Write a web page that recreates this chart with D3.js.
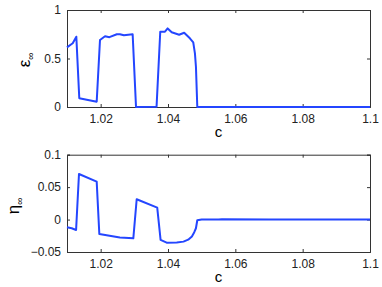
<!DOCTYPE html>
<html>
<head>
<meta charset="utf-8">
<script src="https://cdn.jsdelivr.net/npm/d3@7"></script>
<style>
  body { margin: 0; background: #fff; }
  svg { display: block; font-family: "Liberation Sans", Arial, sans-serif; }
  .tick text { font-size: 12px; fill: #222; }
</style>
</head>
<body>
<div class="chart"></div>
<script>
const W = 382, H = 287;

// epsilon_inf vs c
const epsC = [1.01, 1.0117, 1.01277, 1.01365, 1.01882, 1.0198, 1.0213, 1.0226, 1.0248, 1.0257, 1.0269, 1.0295, 1.0305, 1.0366, 1.0377, 1.0391, 1.0399, 1.0411, 1.0433, 1.0448, 1.0465, 1.0475, 1.048, 1.0483, 1.0487, 1.06, 1.08, 1.1];
const epsV = [0.615, 0.657, 0.725, 0.09, 0.055, 0.69, 0.73, 0.72, 0.75, 0.75, 0.74, 0.75, 0.0, 0.003, 0.776, 0.776, 0.81, 0.77, 0.745, 0.766, 0.708, 0.667, 0.553, 0.415, 0.0, 0.0, 0.0, 0.0];

// eta_inf vs c
const etaC = [1.01, 1.0114, 1.0127, 1.01356, 1.01882, 1.0196, 1.0257, 1.0297, 1.0307, 1.0368, 1.0378, 1.0396, 1.0426, 1.0446, 1.046, 1.0471, 1.0478, 1.0483, 1.0487, 1.05, 1.055, 1.056, 1.07, 1.1];
const etaV = [-0.0119, -0.0134, -0.016, 0.0703, 0.0585, -0.0222, -0.0278, -0.0289, 0.0313, 0.0184, -0.0314, -0.0356, -0.0352, -0.034, -0.031, -0.026, -0.0195, -0.0134, -0.001, 0.0, 0.0, 0.0003, 0.0, 0.0];

const xTicks = [1.02, 1.04, 1.06, 1.08, 1.1];
const epsTicks = [0, 0.5, 1];
const etaTicks = [-0.05, 0, 0.05, 0.1];

const svg = d3.select(".chart").append("svg")
  .attr("width", W).attr("height", H);

const left = 67, right = 370;

const panel = (top, bottom, cs, vs, yDomain, yTicks, yFmt, sym, labelX, labelY, xLabelY) => {
  const x = d3.scaleLinear().domain([1.01, 1.1]).range([left, right]);
  const y = d3.scaleLinear().domain(yDomain).range([bottom, top]);
  const g = svg.append("g");

  const xFmt = (d) => d === 1.1 ? "1.1" : d3.format(".2f")(d);

  g.append("g").attr("transform", `translate(0,${bottom})`)
    .call(d3.axisBottom(x).tickValues(xTicks).tickSize(-3).tickPadding(7).tickFormat(xFmt));
  g.append("g").attr("transform", `translate(0,${top})`)
    .call(d3.axisTop(x).tickValues(xTicks).tickSize(-3).tickFormat(""));
  g.append("g").attr("transform", `translate(${left},0)`)
    .call(d3.axisLeft(y).tickValues(yTicks).tickSize(-3).tickPadding(6).tickFormat(yFmt));
  g.append("g").attr("transform", `translate(${right},0)`)
    .call(d3.axisRight(y).tickValues(yTicks).tickSize(-3).tickFormat(""));

  g.selectAll(".domain").attr("stroke", "#333");
  g.selectAll(".tick line").attr("stroke", "#333");

  const line = d3.line().x((d, i) => x(cs[i])).y((d) => y(d));
  g.append("path").datum(vs)
    .attr("d", line)
    .attr("fill", "none")
    .attr("stroke", "#2446ff")
    .attr("stroke-width", 2)
    .attr("stroke-linejoin", "round");

  // labels
  g.append("text")
    .attr("x", (left + right) / 2).attr("y", xLabelY)
    .attr("text-anchor", "middle")
    .attr("font-size", 15)
    .text("c");

  const yl = g.append("text")
    .attr("transform", `translate(${labelX},${labelY}) rotate(-90)`)
    .attr("font-size", 17)
    .attr("text-anchor", "middle");
  yl.append("tspan").text(sym);
  yl.append("tspan").attr("font-size", 10).attr("dy", 4).text("∞");
};

panel(10, 107, epsC, epsV, [0, 1], epsTicks, (d) => d3.format("")(d), "ε", 30, 60, 137);
panel(154.7, 252, etaC, etaV, [-0.05, 0.1], etaTicks,
  (d) => d === 0 ? "0" : d3.format("")(d).replace("-", "\u2212"), "η", 19, 206, 282);
</script>
</body>
</html>
